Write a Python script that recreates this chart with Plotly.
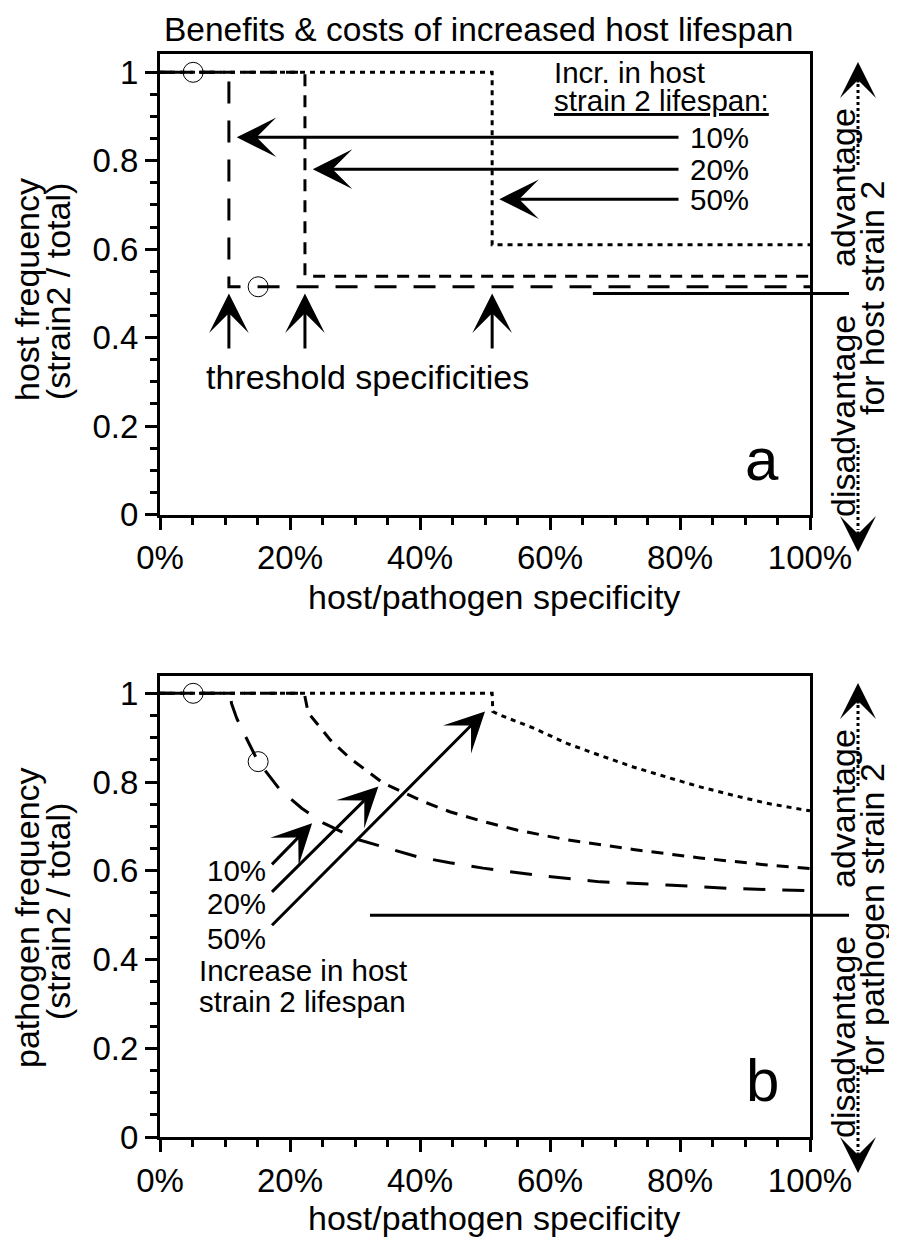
import plotly.graph_objects as go

# the page body adds an 8 px margin, so the figure is drawn 8 px smaller
OFF = 8
W, H = 897 - OFF, 1240 - OFF
FONT = "Liberation Sans, Arial, Helvetica, sans-serif"

# ---------------- data ----------------
lifespan_increase = ["10%", "20%", "50%"]
x_tickvals = [0, 20, 40, 60, 80, 100]
x_ticktext = ["0%", "20%", "40%", "60%", "80%", "100%"]
y_tickvals = [0, 0.2, 0.4, 0.6, 0.8, 1]
y_ticktext = ["0", "0.2", "0.4", "0.6", "0.8", "1"]

# panel a: host frequency, step at threshold specificity
threshold_spec = [10.6, 22.3, 51.1]
host_freq_low = [0.515, 0.539, 0.610]
host_freq_high = [1.0, 1.0, 1.0]

# panel b: pathogen frequency curves
path10_spec = [0, 10.8, 11.0, 11.8, 12.8, 15.1, 18.5, 21.8, 25.1, 30.3, 34.3, 39.5, 44.6, 49.7, 58.0, 67.7, 78.0, 88.2, 100]
path10_freq = [1, 1, 0.977, 0.944, 0.913, 0.846, 0.782, 0.741, 0.708, 0.671, 0.654, 0.632, 0.618, 0.606, 0.590, 0.575, 0.568, 0.560, 0.555]
path20_spec = [0, 22.2, 22.8, 26.2, 29.2, 34.3, 40.5, 44.6, 49.7, 54.9, 60.0, 62.6, 72.8, 83.1, 93.4, 100]
path20_freq = [1, 1, 0.956, 0.895, 0.854, 0.798, 0.756, 0.733, 0.711, 0.692, 0.677, 0.670, 0.648, 0.629, 0.613, 0.605]
path50_spec = [0, 51.1, 51.2, 52.3, 57.4, 62.6, 67.7, 72.8, 78.0, 83.1, 88.2, 93.4, 100]
path50_freq = [1, 1, 0.959, 0.951, 0.922, 0.887, 0.860, 0.834, 0.811, 0.789, 0.770, 0.752, 0.735]

circle_spec = [5.1, 15.1]
host_circle_freq = [1.0, 0.515]
path_circle_freq = [1.0, 0.846]

neutral_freq = 0.5

# ---------------- styles ----------------
dashes = ["22px,17px", "12px,9px", "5px,5px"]


def px(x):
    return (x - OFF) / W


def py(y):
    return 1 - (y - OFF) / H


fig = go.Figure()

# panel a step lines
for i, lab in enumerate(lifespan_increase):
    t = threshold_spec[i]
    fig.add_trace(go.Scatter(
        x=[0, t, t, 100], y=[host_freq_high[i], host_freq_high[i], host_freq_low[i], host_freq_low[i]],
        mode="lines", line=dict(color="black", width=3, dash=dashes[i]),
        xaxis="x", yaxis="y", showlegend=False, name=lab))
fig.add_trace(go.Scatter(x=circle_spec, y=host_circle_freq, mode="markers",
                         marker=dict(symbol="circle-open", size=20, color="black", line=dict(width=1)),
                         xaxis="x", yaxis="y", showlegend=False))

# panel b curves
for sx, sy, d, lab in [(path10_spec, path10_freq, dashes[0], "10%"),
                       (path20_spec, path20_freq, dashes[1], "20%"),
                       (path50_spec, path50_freq, dashes[2], "50%")]:
    fig.add_trace(go.Scatter(x=sx, y=sy, mode="lines", line=dict(color="black", width=3, dash=d),
                             xaxis="x2", yaxis="y2", showlegend=False, name=lab))
fig.add_trace(go.Scatter(x=circle_spec, y=path_circle_freq, mode="markers",
                         marker=dict(symbol="circle-open", size=20, color="black", line=dict(width=1)),
                         xaxis="x2", yaxis="y2", showlegend=False))

# ---------------- axes ----------------
xdom = [px(160), px(810)]
ax_common = dict(showline=True, linewidth=3, linecolor="black", mirror=True,
                 ticks="outside", ticklen=12, tickwidth=3, tickcolor="black",
                 showgrid=False, zeroline=False, automargin=False,
                 tickfont=dict(family=FONT, size=33, color="black"))
xa = dict(ax_common, range=[0, 100], domain=xdom, tickmode="array", tickvals=x_tickvals, ticktext=x_ticktext,
          minor=dict(dtick=5, ticklen=7, tickwidth=3, tickcolor="black", ticks="outside"))
ya = dict(ax_common, tickmode="array", tickvals=y_tickvals, ticktext=y_ticktext,
          minor=dict(dtick=0.05, ticklen=7, tickwidth=3, tickcolor="black", ticks="outside"))

top_y0, top_y1 = 514.5, 54.3
bot_y0, bot_y1 = 1137.0, 675.7
fig.update_layout(
    xaxis=dict(xa, anchor="y"),
    yaxis=dict(ya, anchor="x", domain=[py(top_y0), py(top_y1)], range=[0, (top_y0 - top_y1) / 442.2]),
    xaxis2=dict(xa, anchor="y2"),
    yaxis2=dict(ya, anchor="x2", domain=[py(bot_y0), py(bot_y1)], range=[0, (bot_y0 - bot_y1) / 443.7]),
)

ann = []
shapes = []


def text(x, y, s, size=33, angle=0, xanchor="center", yanchor="middle"):
    ann.append(dict(x=px(x), y=py(y), xref="paper", yref="paper", text=s, showarrow=False,
                    textangle=angle, xanchor=xanchor, yanchor=yanchor,
                    font=dict(family=FONT, size=size, color="black")))


def arrow(xr, yr, x, y, axv, ayv, size=2.2):
    ann.append(dict(x=x, y=y, ax=axv, ay=ayv, xref=xr, yref=yr, axref=xr, ayref=yr,
                    text="", showarrow=True, arrowhead=3, arrowsize=size, arrowwidth=3,
                    arrowcolor="black", standoff=0))


# title and axis titles
text(478, 9, "Benefits & costs of increased host lifespan", 33.5, yanchor="top")
for yoff in [0, 621]:
    text(494, 597 + yoff, "host/pathogen specificity", 34)
text(27, 290, "host frequency", 34, -90)
text(58, 292, "(strain2 / total)", 34, -90)
text(27, 918, "pathogen frequency", 34, -90)
text(58, 912, "(strain2 / total)", 34, -90)

# panel letters
text(762, 460, "a", 60)
text(762, 1080, "b", 60)

# panel a legend
text(552, 72, "Incr. in host", 29.5, xanchor="left")
text(552, 100, "<u>strain 2 lifespan:</u>", 29.5, xanchor="left")
a_arrow_y = [0.853, 0.781, 0.713]
a_arrow_tip = [11.8, 23.5, 52.2]
for i, lab in enumerate(lifespan_increase):
    arrow("x", "y", a_arrow_tip[i], a_arrow_y[i], 80, a_arrow_y[i])
    text(688, 514.5 - a_arrow_y[i] * 442.2, lab, 29.5, xanchor="left")
# threshold arrows
for t in threshold_spec:
    arrow("x", "y", t, 0.5, t, 0.372)
text(367, 377, "threshold specificities", 34)

# panel b legend
b_tail = [(17.0, 0.611), (17.0, 0.549), (17.0, 0.474)]
b_tip = [(23.4, 0.707), (33.6, 0.790), (50.0, 0.959)]
b_lab_y = [870, 903, 938]
for i, lab in enumerate(lifespan_increase):
    arrow("x2", "y2", b_tip[i][0], b_tip[i][1], b_tail[i][0], b_tail[i][1])
    text(268, b_lab_y[i], lab, 29.5, xanchor="right")
text(197, 970, "Increase in host", 29.5, xanchor="left")
text(197, 1002, "strain 2 lifespan", 29.5, xanchor="left")

# neutral lines at 0.5
shapes.append(dict(type="line", xref="x domain", yref="y", x0=0.666, x1=1.06, y0=neutral_freq, y1=neutral_freq,
                   line=dict(color="black", width=3)))
shapes.append(dict(type="line", xref="x2 domain", yref="y2", x0=0.323, x1=1.06, y0=neutral_freq, y1=neutral_freq,
                   line=dict(color="black", width=3)))

# right side annotations
for off, who in [(0, "host"), (621, "pathogen")]:
    text(843, 188 + off, "advantage", 34, -90)
    text(843, 416 + off, "disadvantage", 34, -90)
    text(872, 298 + off, "for %s strain 2" % who, 34, -90)
    shapes.append(dict(type="line", xref="paper", yref="paper", x0=px(858), x1=px(858),
                       y0=py(165 + off), y1=py(82 + off), line=dict(color="black", width=3, dash="dot")))
    shapes.append(dict(type="line", xref="paper", yref="paper", x0=px(858), x1=px(858),
                       y0=py(445 + off), y1=py(530 + off), line=dict(color="black", width=3, dash="dot")))
    ann.append(dict(x=px(858), y=py(62 + off), xref="paper", yref="paper", ax=0, ay=22, text="",
                    showarrow=True, arrowhead=3, arrowsize=2.0, arrowwidth=3, arrowcolor="black", standoff=0))
    ann.append(dict(x=px(858), y=py(552 + off), xref="paper", yref="paper", ax=0, ay=-22, text="",
                    showarrow=True, arrowhead=3, arrowsize=2.0, arrowwidth=3, arrowcolor="black", standoff=0))

fig.update_layout(width=W, height=H, margin=dict(l=0, r=0, t=0, b=0, autoexpand=False),
                  paper_bgcolor="white", plot_bgcolor="white",
                  annotations=ann, shapes=shapes, showlegend=False,
                  font=dict(family=FONT, color="black"))

fig.write_html("out.html")
